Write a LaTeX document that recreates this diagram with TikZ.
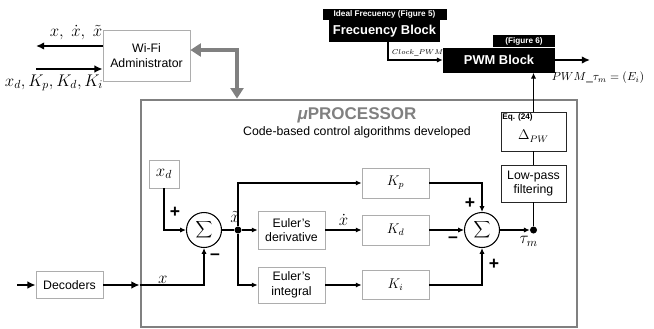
\documentclass[tikz,border=0pt]{standalone}
\usepackage[no-math]{fontspec}
\setmainfont{Liberation Sans}
\usepackage{tikz}
\usetikzlibrary{arrows.meta,positioning}
\definecolor{boxgrey}{HTML}{ADADAD}
\definecolor{procgrey}{HTML}{808080}
\definecolor{inkdark}{HTML}{262626}
\tikzset{
  pbox/.style={draw=boxgrey, fill=white, line width=0.6pt, align=center, font=\fontsize{10.5}{12.5}\selectfont, inner sep=1pt},
  dbox/.style={pbox, draw=inkdark},
  kbox/.style={pbox, font=\large},
  procbox/.style={draw=procgrey, line width=2.4pt, inner sep=0pt},
  blkbox/.style={fill=black, text=white, font=\bfseries\fontsize{11}{13}\selectfont, inner sep=1pt},
  blktag/.style={fill=black, text=white, font=\bfseries\fontsize{7}{8}\selectfont, inner sep=1pt},
  eqtag/.style={font=\bfseries\fontsize{7}{8}\selectfont, anchor=north west, inner sep=1.2pt},
  sumnode/.style={circle, draw, line width=0.9pt, minimum size=1.05cm, inner sep=0pt, font=\Large},
  jdot/.style={circle, fill, inner sep=0pt, minimum size=6pt},
  sig/.style={-{Latex[length=5pt,width=4.5pt]}, line width=1.1pt},
  sigbold/.style={-{Latex[length=7pt,width=6.5pt]}, line width=1.7pt},
  wire/.style={line width=1.1pt},
  garrow/.style={{Triangle[length=9pt,width=11pt]}-{Triangle[length=9pt,width=11pt]}, line width=3.5pt, procgrey},
  mlabel/.style={font=\large, inner sep=1pt},
  biglabel/.style={font=\Large, inner sep=1pt},
  sign/.style={font=\bfseries\fontsize{15}{15}\selectfont, inner sep=0pt},
}

\begin{document}
\begin{tikzpicture}[x=0.03cm, y=-0.03cm]
  \useasboundingbox (0,0) rectangle (654,328);
  \node[procbox, minimum width=13.08cm, minimum height=6.81cm] (proc) at (359,213.5) {};
  \node[font=\bfseries\fontsize{14.5}{16}\selectfont, text=procgrey, inner sep=1pt] (ptitle) at (357,115) {\textit{μ}PROCESSOR};
  \node[font=\fontsize{10.5}{12.5}\selectfont, inner sep=1pt, below=1pt of ptitle] (psub) {Code-based control algorithms developed};

  \node[pbox, minimum width=2.61cm, minimum height=1.53cm] (wifi) at (146.5,55.5) {Wi-Fi\\Administrator};
  \coordinate (outL) at (36,46);
  \coordinate (inL) at (36,69);
  \draw[sigbold] (wifi.west |- outL) -- (outL);
  \draw[sigbold] (inL) -- (inL -| wifi.west);
  \node[biglabel] at (76,33) {$x,\;\dot{x},\;\tilde{x}$};
  \node[biglabel] at (54,83) {$x_d,K_p,K_d,K_i$};
  \coordinate (gcorner) at (237,50);
  \draw[garrow] (wifi.east |- gcorner) -- (gcorner) -- (gcorner |- proc.north);

  \node[blkbox, minimum width=3.33cm, minimum height=0.66cm] (freq) at (384.5,31) {Frecuency Block};
  \node[blktag, minimum width=3.72cm, minimum height=0.33cm, above=0pt of freq] (freqtag) {Ideal Frecuency (Figure 5)};
  \node[blkbox, minimum width=3.36cm, minimum height=0.75cm] (pwm) at (499,60) {PWM Block};
  \node[blktag, minimum width=1.86cm, minimum height=0.36cm, anchor=south east] (pwmtag) at (pwm.north east) {(Figure 6)};
  \coordinate (clk) at (388,60);
  \draw[sig] (freq.south -| clk) -- (clk) -- (clk -| pwm.west);
  \node[font=\fontsize{6.5}{7}\selectfont, inner sep=0pt, above right=3pt and 3pt of clk] {$Clock\_PWM$};
  \coordinate (pwmout) at (590,60);
  \draw[sigbold] (pwm.east) -- (pwmout);
  \node[font=\normalsize, inner sep=1pt] at (598,78) {$PWM\_\tau_m=(E_i)$};

  \node[dbox, minimum width=1.95cm, minimum height=1.17cm, label={[eqtag]north west:Eq. (24)}, label={[mlabel, yshift=-4pt]center:$\Delta_{PW}$}] (delta) at (533.5,131.5) {};
  \node[dbox, minimum width=1.95cm, minimum height=1.11cm] (lowpass) at (533.5,183.5) {Low-pass\\filtering};
  \node[jdot] (taudot) at (533.5,230) {};
  \draw[sig] (delta.north) -- (delta.north |- pwm.south);
  \draw[wire] (delta.south) -- (lowpass.north);
  \draw[wire] (lowpass.south) -- (taudot);

  \node[pbox, minimum width=0.9cm, minimum height=0.84cm, font=\Large] (xd) at (164,174) {$x_d$};
  \node[sumnode] (sum1) at (204,230) {$\displaystyle\sum$};
  \node[jdot] (jdot) at (238,230) {};
  \node[pbox, minimum width=2.01cm, minimum height=1.14cm] (deriv) at (291.5,230) {Euler's\\derivative};
  \node[pbox, minimum width=2.01cm, minimum height=1.08cm] (integ) at (291.5,285) {Euler's\\integral};
  \node[kbox, minimum width=2.01cm, minimum height=0.9cm] (kp) at (395.5,183) {$K_p$};
  \node[kbox, minimum width=2.01cm, minimum height=0.9cm] (kd) at (395.5,230) {$K_d$};
  \node[kbox, minimum width=2.01cm, minimum height=0.87cm] (ki) at (395.5,285) {$K_i$};
  \node[sumnode] (sum2) at (482,230) {$\displaystyle\sum$};
  \node[pbox, minimum width=2.01cm, minimum height=0.81cm] (dec) at (69.5,285) {Decoders};
  \coordinate (decin) at (17,285);

  \draw[sigbold] (decin) -- (dec.west);
  \draw[sigbold] (dec.east) -- (dec.east -| proc.west);
  \draw[sig] (dec.east -| proc.west) -| node[biglabel, pos=0.18, above] {$x$} (sum1.south);
  \draw[sig] (xd.south) |- (sum1.west);
  \draw[wire] (sum1.east) -- (jdot);
  \node[biglabel, above left=3pt and -5pt of jdot] {$\tilde{x}$};
  \draw[sig] (jdot) -- (deriv.west);
  \draw[sig] (jdot) |- (kp.west);
  \draw[sig] (jdot) |- (integ.west);
  \draw[sig] (deriv.east) -- node[biglabel, above=2pt] {$\dot{x}$} (kd.west);
  \draw[sig] (integ.east) -- (ki.west);
  \draw[sig] (kp.east) -| (sum2.north);
  \draw[sig] (kd.east) -- (sum2.west);
  \draw[sig] (ki.east) -| (sum2.south);
  \draw[sig] (sum2.east) -- (taudot);
  \node[biglabel, below left=2pt and -7pt of taudot] {$\tau_m$};

  \node[sign] at (175,212) {+};
  \node[sign] at (215,257) {–};
  \node[sign] at (470,203) {+};
  \node[sign] at (453,240) {–};
  \node[sign] at (494,264) {+};
\end{tikzpicture}
\end{document}
